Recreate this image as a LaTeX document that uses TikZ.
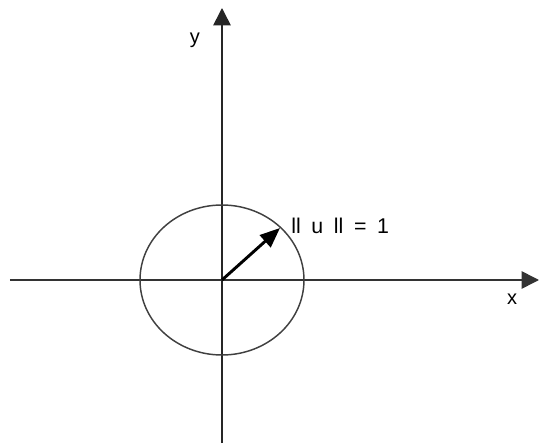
\documentclass[tikz,border=0pt]{standalone}
\usepackage{fontspec}
\setmainfont{Liberation Sans}
\usetikzlibrary{arrows.meta}
\newcommand{\normfont}{\fontsize{16}{18}\selectfont\spaceskip 8pt\relax}
\begin{document}
\begin{tikzpicture}[x=0.75pt, y=0.75pt, every node/.style={font=\fontsize{15}{17}\selectfont}]
  \useasboundingbox (-222,-163) rectangle (317,280);
  % axes
  \coordinate (O) at (0,0);
  \coordinate (xl) at (-212,0);
  \coordinate (xr) at (317,0);
  \coordinate (yb) at (0,-163);
  \coordinate (yt) at (0,272);
  \draw[line width=1.2pt, black!80, -{Triangle[length=13pt,width=13pt]}] (xl) -- (xr);
  \draw[line width=1.2pt, black!85, -{Triangle[length=13pt,width=13pt]}] (yb) -- (yt);
  \node (ylab) at (-27,240) {y};
  \node (xlab) at (290,-19) {x};
  % unit circle and vector
  \draw[line width=1.1pt, black!75] (O) ellipse [x radius=82, y radius=75];
  \coordinate (u) at (58,52);
  \draw[line width=2.2pt, -{Triangle[length=15pt,width=12pt]}] (O) -- (u);
  \node[anchor=west, inner sep=0pt, font=\normfont] (norm) at (69,54) {ll u ll = 1};
\end{tikzpicture}
\end{document}
